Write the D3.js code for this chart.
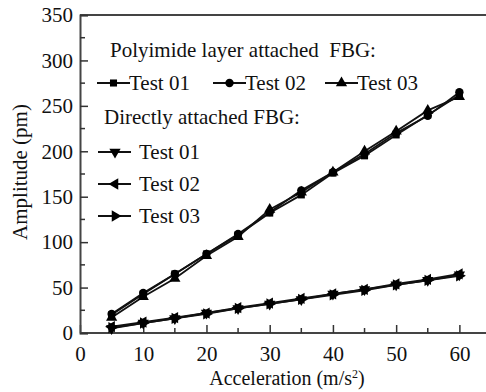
<!DOCTYPE html>
<html><head><meta charset="utf-8">
<script src="https://cdn.jsdelivr.net/npm/d3@7"></script>
<style>body{margin:0;background:#fff}svg{display:block}</style>
</head><body><svg id="c" width="486" height="392"></svg>
<script>
const accel = [5,10,15,20,25,30,35,40,45,50,55,60];
const polyTest01 = [20,43,65,87,108,132,152,176,195,218,240,262];
const polyTest02 = [21,44,65,87,109,133,157,177,197,220,239,265];
const polyTest03 = [17,40,60,85,106,136,155,177,200,222,245,260];
const directTest01 = [5,11,16,22,27,32,37,43,48,53,58,64];
const directTest02 = [7,12,17,22,28,33,38,43,48,54,59,65];
const directTest03 = [6,11,16,21,27,32,37,42,47,53,58,63];
const xTicks = [0,10,20,30,40,50,60];
const yTicks = [0,50,100,150,200,250,300,350];

const FONT = 'Liberation Serif';
const svg = d3.select('#c');
const L=80, T=15, B=333, R=491;
const x = d3.scaleLinear().domain([0,65]).range([L,R]);
const y = d3.scaleLinear().domain([0,350]).range([B,T]);

// frame
svg.append('line').attr('x1',L).attr('x2',486).attr('y1',T).attr('y2',T).attr('stroke','#444').attr('stroke-width',2);
const xAxis = d3.axisBottom(x).tickValues(xTicks).tickSize(-8).tickPadding(13).tickFormat(d3.format('d'));
const gx = svg.append('g').attr('transform',`translate(0,${B})`).call(xAxis);
const yAxis = d3.axisLeft(y).tickValues(yTicks).tickSize(-8).tickPadding(7);
const gy = svg.append('g').attr('transform',`translate(${L},0)`).call(yAxis);
[gx,gy].forEach(g=>{
  g.select('.domain').attr('stroke','#444').attr('stroke-width',2);
  g.selectAll('.tick line').attr('stroke','#333').attr('stroke-width',1.5);
  g.selectAll('.tick text').attr('fill','#111').attr('font-family',FONT).attr('font-size',21);
});
gx.select('.domain').attr('d',`M${L},0H486`);
// minor ticks
const minorX = d3.range(5,65,10);
svg.append('g').selectAll('line').data(minorX).join('line')
  .attr('x1',d=>x(d)).attr('x2',d=>x(d)).attr('y1',B).attr('y2',B-5).attr('stroke','#333').attr('stroke-width',1.5);
const minorY = d3.range(25,350,50);
svg.append('g').selectAll('line').data(minorY).join('line')
  .attr('x1',L).attr('x2',L+5).attr('y1',d=>y(d)).attr('y2',d=>y(d)).attr('stroke','#333').attr('stroke-width',1.5);

// axis labels
const xl = svg.append('text').attr('x',287).attr('y',385).attr('text-anchor','middle').attr('font-size',20).attr('font-family',FONT).attr('fill','#111');
xl.append('tspan').attr('font-family',FONT).text('Acceleration (m/s');
xl.append('tspan').attr('font-family',FONT).attr('dy',-7).attr('font-size',12).text('2');
xl.append('tspan').attr('font-family',FONT).attr('dy',7).text(')');
svg.append('text').attr('transform','translate(27,172) rotate(-90)').attr('text-anchor','middle').attr('font-size',21).attr('font-family',FONT).attr('fill','#111').text('Amplitude (pm)');

// marker symbols
const sym = {
  square: d3.symbol(d3.symbolSquare, 50)(),
  circle: d3.symbol(d3.symbolCircle, 55)(),
  triUp: d3.symbol(d3.symbolTriangle, 55)(),
};
const series = [
  {vals:polyTest01, path:sym.square, rot:0},
  {vals:polyTest02, path:sym.circle, rot:0},
  {vals:polyTest03, path:sym.triUp, rot:0},
  {vals:directTest01, path:sym.triUp, rot:180},
  {vals:directTest02, path:sym.triUp, rot:-90},
  {vals:directTest03, path:sym.triUp, rot:90},
];
const line = d3.line().x((d,i)=>x(accel[i])).y(d=>y(d));
series.forEach(s=>{
  svg.append('path').attr('d',line(s.vals)).attr('fill','none').attr('stroke','#111').attr('stroke-width',1.8);
});
series.forEach(s=>{
  svg.append('g').selectAll('path').data(s.vals).join('path')
    .attr('d',s.path).attr('fill','#000')
    .attr('transform',(d,i)=>`translate(${x(accel[i])},${y(d)}) rotate(${s.rot})`);
});

// legend
const lg = svg.append('g');
function txt(xx,yy,t){ return lg.append('text').attr('x',xx).attr('y',yy).attr('font-family',FONT).attr('font-size',21).attr('fill','#111').text(t); }
txt(110,57,'Polyimide layer attached\u00A0\u00A0FBG:');
const row2 = [{lx:97,label:'Test 01',s:series[0]},{lx:213,label:'Test 02',s:series[1]},{lx:325,label:'Test 03',s:series[2]}];
row2.forEach(r=>{
  lg.append('line').attr('x1',r.lx).attr('x2',r.lx+33).attr('y1',83).attr('y2',83).attr('stroke','#111').attr('stroke-width',1.8);
  lg.append('path').attr('d',r.s.path).attr('fill','#000').attr('transform',`translate(${r.lx+16.5},83) rotate(${r.s.rot})`);
  txt(r.lx+32,90,r.label);
});
txt(104,124,'Directly attached FBG:');
const rows = [{yy:152,label:'Test 01',s:series[3]},{yy:184,label:'Test 02',s:series[4]},{yy:216,label:'Test 03',s:series[5]}];
rows.forEach(r=>{
  lg.append('line').attr('x1',98).attr('x2',131).attr('y1',r.yy).attr('y2',r.yy).attr('stroke','#111').attr('stroke-width',1.8);
  lg.append('path').attr('d',r.s.path).attr('fill','#000').attr('transform',`translate(115,${r.yy}) rotate(${r.s.rot})`);
  txt(139,r.yy+7,r.label);
});
</script></body></html>
